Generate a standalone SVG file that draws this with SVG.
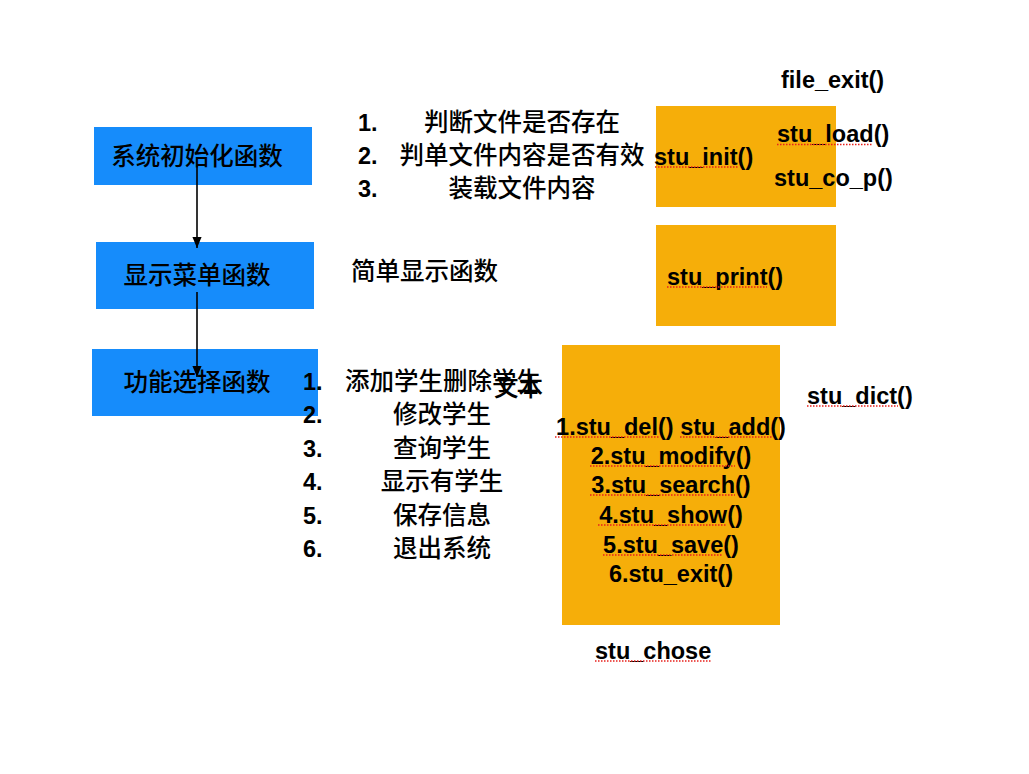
<svg xmlns="http://www.w3.org/2000/svg" width="1029" height="774" viewBox="0 0 1029 774">
<style>
.blue{fill:#168cfb}
.orange{fill:#f6ae09}
.zh{font-family:"Noto Sans CJK SC","Noto Sans",sans-serif;font-size:24.5px;font-weight:500;fill:#000}
.en{font-family:"Liberation Sans","Noto Sans CJK SC",sans-serif;font-size:23.5px;font-weight:bold;fill:#000}
.sp{stroke:#e8201c;stroke-width:1.5;stroke-dasharray:1.5 1.5;fill:none}
.conn{stroke:#000;stroke-width:1.6;fill:none}
</style>
<defs>
<marker id="ah2" viewBox="0 0 12 10" refX="12" refY="5" markerWidth="11" markerHeight="10" markerUnits="userSpaceOnUse" orient="auto">
<path d="M0,0 L12,5 L0,10 Z" fill="#000"/>
</marker>
</defs>
<rect width="1029" height="774" fill="#fff"/>

<g id="node-init">
<rect class="blue" x="94" y="127" width="218" height="58"/>
<text class="zh" x="197" y="165" text-anchor="middle">系统初始化函数</text>
</g>
<g id="node-menu">
<rect class="blue" x="96" y="242" width="218" height="67"/>
<text class="zh" x="197" y="284" text-anchor="middle">显示菜单函数</text>
</g>
<g id="node-choose">
<rect class="blue" x="92" y="349" width="226" height="67"/>
<text class="zh" x="197" y="391" text-anchor="middle">功能选择函数</text>
</g>

<g id="note-init">
<text class="en" x="358" y="131">1.</text>
<text class="zh" x="522" y="131" text-anchor="middle">判断文件是否存在</text>
<text class="en" x="358" y="164">2.</text>
<text class="zh" x="522" y="164" text-anchor="middle">判单文件内容是否有效</text>
<text class="en" x="358" y="197">3.</text>
<text class="zh" x="522" y="197" text-anchor="middle">装载文件内容</text>
</g>

<g id="note-menu">
<text class="zh" x="351" y="280">简单显示函数</text>
</g>

<g id="note-choose">
<text class="en" x="303" y="390">1.</text>
<text class="zh" x="345" y="390">添加学生删除学生</text>
<text class="zh" x="494" y="396">文本</text>
<text class="en" x="303" y="423">2.</text>
<text class="zh" x="442" y="423" text-anchor="middle">修改学生</text>
<text class="en" x="303" y="457">3.</text>
<text class="zh" x="442" y="457" text-anchor="middle">查询学生</text>
<text class="en" x="303" y="490">4.</text>
<text class="zh" x="442" y="490" text-anchor="middle">显示有学生</text>
<text class="en" x="303" y="524">5.</text>
<text class="zh" x="442" y="524" text-anchor="middle">保存信息</text>
<text class="en" x="303" y="557">6.</text>
<text class="zh" x="442" y="557" text-anchor="middle">退出系统</text>
</g>

<g id="node-stu-init">
<rect class="orange" x="656" y="106" width="180" height="101"/>
<text class="en" x="654" y="165">stu_init()</text>
<line class="sp" x1="655" y1="167" x2="738" y2="167"/>
</g>
<g id="label-file-exit">
<text class="en" x="781" y="88">file_exit()</text>
</g>
<g id="label-stu-load">
<text class="en" x="777" y="142">stu_load()</text>
<line class="sp" x1="777" y1="144.5" x2="873" y2="144.5"/>
</g>
<g id="label-stu-co-p">
<text class="en" x="774" y="186">stu_co_p()</text>
</g>

<g id="node-stu-print">
<rect class="orange" x="656" y="225" width="180" height="101"/>
<text class="en" x="667" y="285">stu_print()</text>
<line class="sp" x1="667" y1="287" x2="767" y2="287"/>
</g>

<g id="node-stu-chose">
<rect class="orange" x="562" y="345" width="218" height="280"/>
<text class="en" x="671" y="435" text-anchor="middle">1.stu_del() stu_add()</text>
<line class="sp" x1="555" y1="437" x2="660" y2="437"/>
<line class="sp" x1="680" y1="437" x2="772" y2="437"/>
<text class="en" x="671" y="464" text-anchor="middle">2.stu_modify()</text>
<line class="sp" x1="590" y1="466" x2="735" y2="466"/>
<text class="en" x="671" y="493" text-anchor="middle">3.stu_search()</text>
<line class="sp" x1="590" y1="495" x2="735" y2="495"/>
<text class="en" x="671" y="523" text-anchor="middle">4.stu_show()</text>
<line class="sp" x1="598" y1="525" x2="727" y2="525"/>
<text class="en" x="671" y="553" text-anchor="middle">5.stu_save()</text>
<line class="sp" x1="603" y1="555" x2="723" y2="555"/>
<text class="en" x="671" y="582" text-anchor="middle">6.stu_exit()</text>
</g>
<g id="label-stu-dict">
<text class="en" x="807" y="404">stu_dict()</text>
<line class="sp" x1="807" y1="406" x2="898" y2="406"/>
</g>
<g id="label-stu-chose">
<text class="en" x="595" y="659">stu_chose</text>
<line class="sp" x1="595" y1="661" x2="712" y2="661"/>
</g>

<g id="connectors">
<line class="conn" x1="197" y1="165" x2="197" y2="248" marker-end="url(#ah2)"/>
<line class="conn" x1="197" y1="292" x2="197" y2="377" marker-end="url(#ah2)"/>
</g>
</svg>
